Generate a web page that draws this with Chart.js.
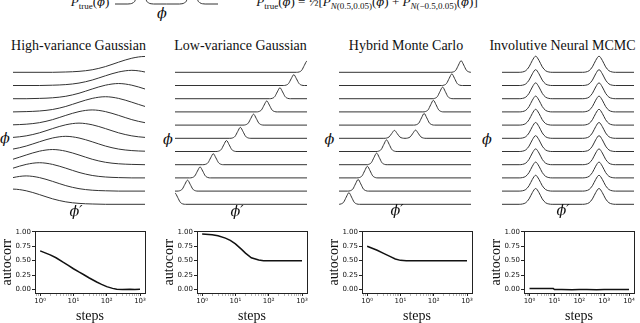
<!DOCTYPE html>
<html>
<head>
<meta charset="utf-8">
<script src="https://cdn.jsdelivr.net/npm/chart.js@4.4.1/dist/chart.umd.min.js"></script>
<style>
  body { margin: 0; background: #fff; }
  #fig { position: relative; width: 640px; height: 323px; overflow: hidden;
         font-family: "Liberation Serif", "DejaVu Serif", serif; color: #111; }
  #fig canvas { position: absolute; }
  .lbl { position: absolute; white-space: nowrap; font-size: 14px; line-height: 16px;
         transform: translate(-50%, -50%); }
  .it { font-style: italic; }
  .phi { font-family: "DejaVu Serif", serif; font-style: italic; font-size: 0.9em; }
  .frm { font-size: 13px; }
  .frm sub { font-size: 9px; vertical-align: -3px; line-height: 0; }
</style>
</head>
<body>
<div id="fig">
  <!-- top strip: target density -->
  <canvas id="trueChart" width="103" height="100" style="left:115px; top:-95px"></canvas>
  <div class="lbl frm" style="left:90px; top:1.5px"><span class="it">P</span><sub>true</sub>(<span class="phi">ϕ</span>)</div>
  <div class="lbl phi" style="left:162px; top:13px">ϕ</div>
  <div class="lbl frm" style="left:367px; top:1.5px"><span class="it">P</span><sub>true</sub>(<span class="phi">ϕ</span>) = ½[<span class="it">P</span><sub><span class="it">N</span>(0.5,0.05)</sub>(<span class="phi">ϕ</span>) + <span class="it">P</span><sub><span class="it">N</span>(−0.5,0.05)</sub>(<span class="phi">ϕ</span>)]</div>

  <!-- ridge panels -->
  <div class="lbl" style="left:78.5px; top:46px">High-variance Gaussian</div>
  <div class="lbl" style="left:240.5px; top:46px">Low-variance Gaussian</div>
  <div class="lbl" style="left:406px; top:46px">Hybrid Monte Carlo</div>
  <div class="lbl" style="left:562.5px; top:46px">Involutive Neural MCMC</div>

  <canvas id="hvRidge" width="132" height="164" style="left:12.5px; top:50px"></canvas>
  <canvas id="lvRidge" width="132" height="164" style="left:175px; top:50px"></canvas>
  <canvas id="hmcRidge" width="132" height="164" style="left:338.5px; top:50px"></canvas>
  <canvas id="inRidge" width="132" height="164" style="left:501.5px; top:50px"></canvas>

  <div class="lbl phi" style="left:5px; top:138px">ϕ</div>
  <div class="lbl phi" style="left:168px; top:139px">ϕ</div>
  <div class="lbl phi" style="left:329.5px; top:139px">ϕ</div>
  <div class="lbl phi" style="left:487px; top:139px">ϕ</div>
  <div class="lbl phi" style="left:76px; top:211px">ϕ′</div>
  <div class="lbl phi" style="left:237px; top:211px">ϕ′</div>
  <div class="lbl phi" style="left:397px; top:210px">ϕ′</div>
  <div class="lbl phi" style="left:563px; top:210px">ϕ′</div>

  <!-- autocorrelation panels -->
  <canvas id="hvAuto" width="150" height="97" style="left:0px; top:226px"></canvas>
  <canvas id="lvAuto" width="150" height="97" style="left:162px; top:226px"></canvas>
  <canvas id="hmcAuto" width="150" height="97" style="left:326.5px; top:226px"></canvas>
  <canvas id="inAuto" width="150" height="97" style="left:489px; top:226px"></canvas>
</div>

<script>
/* target density strip */
const trueX = [-1, -0.75, -0.7, -0.65, -0.6, -0.55, -0.5, -0.45, -0.4, -0.35, -0.3, -0.25, 0,
               0.25, 0.3, 0.35, 0.4, 0.45, 0.5, 0.55, 0.6, 0.65, 0.7, 0.75, 1];
const trueY = [0, 0, 0.01, 0.05, 0.22, 1.2, 4, 1.2, 0.22, 0.05, 0.01, 0, 0,
               0, 0.01, 0.05, 0.22, 1.2, 4, 1.2, 0.22, 0.05, 0.01, 0, 0];

/* ridge panels: peak centres per row (top row first) and peak heights in row spacings */
const hvPeaks = [[1.0], [0.8], [0.6], [0.4], [0.2], [0.0], [-0.2], [-0.4], [-0.6], [-0.8], [-1.0]];
const hvHeights = [[1.2], [1.15], [1.15], [1.15], [1.15], [1.15], [1.15], [1.15], [1.15], [1.15], [1.15]];

const lvPeaks = [[1.0], [0.8], [0.59], [0.39], [0.19], [-0.01], [-0.22], [-0.42], [-0.62], [-0.81], [-1.0]];
const lvHeights = [[0.85], [0.82], [0.83], [0.83], [0.83], [0.83], [0.83], [0.83], [0.83], [0.83], [0.85]];

const hmcPeaks = [[0.85], [0.71], [0.57], [0.43], [0.29], [-0.16, 0.16], [-0.28], [-0.43], [-0.57], [-0.71], [-0.85]];
const hmcHeights = [[0.88], [0.88], [0.88], [0.88], [0.88], [0.6, 0.62], [0.88], [0.88], [0.88], [0.88], [0.88]];

const inPeaks = [[-0.49, 0.47], [-0.49, 0.47], [-0.49, 0.47], [-0.49, 0.47], [-0.49, 0.47], [-0.49, 0.47],
                 [-0.49, 0.47], [-0.49, 0.47], [-0.49, 0.47], [-0.49, 0.47], [-0.49, 0.47]];
const inHeights = [[1.22, 1.22], [1.2, 1.2], [1.2, 1.2], [1.2, 1.2], [1.2, 1.2], [1.2, 1.2],
                   [1.2, 1.2], [1.2, 1.2], [1.2, 1.2], [1.2, 1.2], [1.2, 1.2]];

/* peak profiles: relative height at a distance from the peak centre */
const broadOffsets = [0, 0.2, 0.4, 0.6, 0.8, 1.0, 1.2, 1.4];
const broadShape = [1, 0.89, 0.64, 0.36, 0.16, 0.06, 0.02, 0];
const narrowOffsets = [0, 0.04, 0.08, 0.12, 0.16];
const narrowShape = [1, 0.62, 0.18, 0.03, 0];
const wideOffsets = [0, 0.05, 0.1, 0.15, 0.2, 0.25];
const wideShape = [1, 0.74, 0.34, 0.1, 0.02, 0];

/* autocorrelation panels */
const steps3 = [1, 2, 3, 5, 7, 10, 15, 20, 30, 50, 70, 100, 150, 200, 300, 500, 700, 1000];
const hvAutocorr = [0.67, 0.60, 0.55, 0.47, 0.42, 0.36, 0.30, 0.26, 0.20, 0.13, 0.09, 0.05, 0.02, 0.005, 0.0, 0.005, 0.0, 0.005];
const lvAutocorr = [0.96, 0.95, 0.93, 0.89, 0.85, 0.79, 0.70, 0.63, 0.55, 0.51, 0.50, 0.50, 0.50, 0.50, 0.50, 0.50, 0.50, 0.50];
const hmcAutocorr = [0.75, 0.68, 0.63, 0.57, 0.53, 0.505, 0.50, 0.50, 0.50, 0.50, 0.50, 0.50, 0.50, 0.50, 0.50, 0.50, 0.50, 0.50];
const steps4 = [1, 2, 3, 5, 7, 9, 10, 20, 50, 100, 200, 500, 1000, 2000, 5000, 10000];
const inAutocorr = [0.02, 0.02, 0.02, 0.02, 0.02, 0.02, 0.0, 0.0, -0.003, 0.0, 0.002, -0.002, 0.0, 0.002, 0.0, 0.0];

const decades3 = [1, 10, 100, 1000];
const decades4 = [1, 10, 100, 1000, 10000];
const decadeLabels = ["10⁰", "10¹", "10²", "10³", "10⁴"];
const autocorrTicks = [0, 0.25, 0.5, 0.75, 1];

const lineColor = "#333";
const ink = "#111";

/* helpers */

const baseOptions = {
    responsive: false,
    animation: false,
    events: [],
    plugins: { legend: { display: false }, tooltip: { enabled: false } }
};

function ridgeRows(peaks, heights, offsets, shape) {
    return peaks.map((centres, row) => {
        const base = peaks.length - 1 - row;
        const pts = [{ x: -5, y: base }, { x: 5, y: base }];
        centres.forEach((c, i) => {
            const h = heights[row][i];
            offsets.forEach((o, j) => {
                pts.push({ x: c - o, y: base + h * shape[j] });
                if (o > 0) pts.push({ x: c + o, y: base + h * shape[j] });
            });
        });
        pts.sort((a, b) => a.x - b.x);
        return {
            data: pts,
            borderColor: lineColor,
            borderWidth: 1,
            pointRadius: 0,
            cubicInterpolationMode: "monotone"
        };
    });
}

function ridgeChart(id, peaks, heights, offsets, shape) {
    return new Chart(document.getElementById(id), {
        type: "line",
        data: { datasets: ridgeRows(peaks, heights, offsets, shape) },
        options: {
            ...baseOptions,
            scales: {
                x: { type: "linear", min: -1, max: 1, display: false },
                y: { min: -0.735, max: 11.69, display: false }
            }
        }
    });
}

const frame = {
    id: "frame",
    afterDraw(chart) {
        const { ctx, chartArea: a } = chart;
        ctx.save();
        ctx.strokeStyle = "#222";
        ctx.lineWidth = 1;
        ctx.strokeRect(Math.round(a.left) + 0.5, Math.round(a.top) + 0.5,
            Math.round(a.right - a.left), Math.round(a.bottom - a.top));
        ctx.restore();
    }
};

const tickFont = { family: "DejaVu Sans", size: 7 };
const titleFont = { family: "Liberation Serif", size: 14, lineHeight: 1 };

function autocorrChart(id, steps, values, decades, min, max) {
    const minor = [];
    [decades[0] / 10, ...decades].forEach(d => {
        [2, 3, 4, 5, 6, 7, 8, 9].forEach(m => {
            const v = d * m;
            if (v >= min && v <= max) minor.push(v);
        });
    });
    const tickValues = [...decades, ...minor].sort((a, b) => a - b);

    return new Chart(document.getElementById(id), {
        type: "line",
        data: {
            datasets: [{
                data: steps.map((s, i) => ({ x: s, y: values[i] })),
                borderColor: ink,
                borderWidth: 1.5,
                pointRadius: 0,
                tension: 0
            }]
        },
        options: {
            ...baseOptions,
            layout: { padding: { top: 5, right: 5 } },
            scales: {
                x: {
                    type: "logarithmic",
                    min: min,
                    max: max,
                    afterBuildTicks: s => { s.ticks = tickValues.map(v => ({ value: v })); },
                    afterFit: s => { s.height = 30; },
                    ticks: {
                        autoSkip: false,
                        maxRotation: 0,
                        padding: 1,
                        color: ink,
                        font: tickFont,
                        callback: v => {
                            const i = decades.indexOf(v);
                            return i < 0 ? "" : decadeLabels[i];
                        }
                    },
                    grid: {
                        drawOnChartArea: false,
                        tickLength: 3,
                        tickColor: ctx => decades.includes(ctx.tick && ctx.tick.value) ? "#222" : "#999",
                        tickWidth: ctx => decades.includes(ctx.tick && ctx.tick.value) ? 1 : 0.7
                    },
                    border: { display: false },
                    title: { display: true, text: "steps", padding: 0, font: titleFont, color: ink }
                },
                y: {
                    min: -0.06,
                    max: 1.01,
                    afterBuildTicks: s => { s.ticks = autocorrTicks.map(v => ({ value: v })); },
                    afterFit: s => { s.width = 35; },
                    ticks: {
                        padding: 1,
                        color: ink,
                        font: tickFont,
                        callback: v => v.toFixed(2)
                    },
                    grid: { drawOnChartArea: false, tickLength: 3, tickColor: "#222" },
                    border: { display: false },
                    title: { display: true, text: "autocorr", padding: 0, font: titleFont, color: ink }
                }
            }
        },
        plugins: [frame]
    });
}

/* target density strip */
new Chart(document.getElementById("trueChart"), {
    type: "line",
    data: {
        datasets: [{
            data: trueX.map((x, i) => ({ x: x, y: trueY[i] })),
            borderColor: lineColor,
            borderWidth: 1,
            pointRadius: 0,
            cubicInterpolationMode: "monotone"
        }]
    },
    options: {
        ...baseOptions,
        scales: {
            x: { type: "linear", min: -1, max: 1, display: false },
            y: { min: -0.04, max: 4, display: false }
        }
    }
});

/* ridge charts */
ridgeChart("hvRidge", hvPeaks, hvHeights, broadOffsets, broadShape);
ridgeChart("lvRidge", lvPeaks, lvHeights, narrowOffsets, narrowShape);
ridgeChart("hmcRidge", hmcPeaks, hmcHeights, narrowOffsets, narrowShape);
ridgeChart("inRidge", inPeaks, inHeights, wideOffsets, wideShape);

/* autocorrelation charts */
autocorrChart("hvAuto", steps3, hvAutocorr, decades3, 0.708, 1413);
autocorrChart("lvAuto", steps3, lvAutocorr, decades3, 0.708, 1413);
autocorrChart("hmcAuto", steps3, hmcAutocorr, decades3, 0.708, 1413);
autocorrChart("inAuto", steps4, inAutocorr, decades4, 0.631, 15849);
</script>
</body>
</html>
